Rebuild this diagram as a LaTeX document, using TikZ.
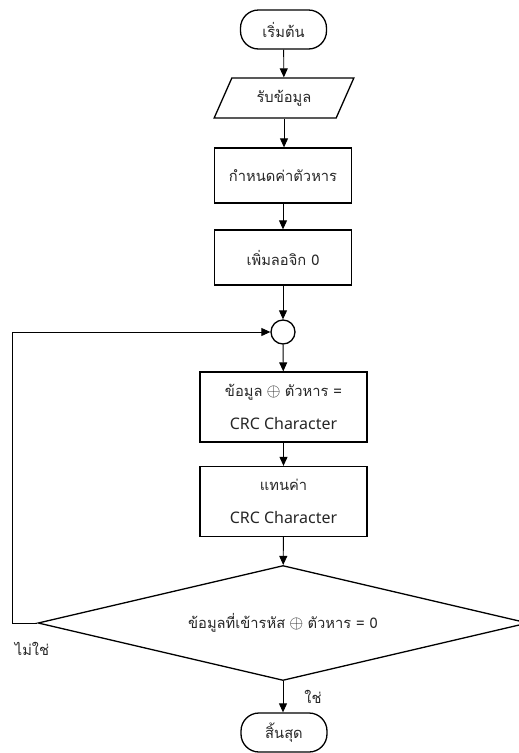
\documentclass[tikz,border=0pt]{standalone}
\usepackage{fontspec}
\setmainfont{Noto Sans}[Scale=1.14]
\newfontfamily\thai[Script=Thai,Scale=1.05]{Loma}
\usetikzlibrary{shapes.geometric,arrows.meta}
\newcommand{\xorsign}{\scalebox{1.25}{$\oplus$}}
\begin{document}
\begin{tikzpicture}[x=1pt,y=-1pt,
  every node/.style={font=\fontsize{14}{33}\selectfont, text=black!85, align=center, inner sep=0pt},
  shapebox/.style={draw, line width=1.3pt},
  term/.style={shapebox, rectangle, rounded corners=18pt, minimum width=86pt, minimum height=39pt},
  iobox/.style={shapebox, trapezium, trapezium stretches=true, trapezium left angle=60, trapezium right angle=120, minimum width=140pt, minimum height=40pt},
  procbox/.style={shapebox, rectangle, minimum width=137pt, minimum height=55pt},
  wideproc/.style={shapebox, rectangle, minimum width=167pt, minimum height=70pt},
  junction/.style={shapebox, circle, minimum size=24pt},
  decision/.style={shapebox, diamond, aspect=4.26, minimum width=490pt, minimum height=115pt},
  flow/.style={draw, line width=0.9pt, -{Triangle[length=9pt,width=8pt]}},
  lbl/.style={font=\fontsize{14}{16}\selectfont}
]
\useasboundingbox (0,0) rectangle (519,753);
\clip (0,0) rectangle (519,753);

\node[term] (start) at (283.5,29.5) {\thai เริ่มต้น};
\node[iobox] (input) at (284,98) {\thai รับข้อมูล};
\node[procbox] (divisor) at (283,175.5) {\thai กำหนดค่าตัวหาร};
\node[procbox] (zeros) at (283,257.5) {\thai เพิ่มลอจิก 0};
\node[junction] (join) at (283,332) {};
\node[wideproc] (xor) at (283.5,407) {{\thai ข้อมูล} \xorsign{} {\thai ตัวหาร =}\\CRC Character};
\node[wideproc] (replace) at (283.5,501.5) {\thai แทนค่า\\CRC Character};
\node[decision] (check) at (283,623) {{\thai ข้อมูลที่เข้ารหัส} \xorsign{} {\thai ตัวหาร = 0}};
\node[term] (stop) at (284,732.5) {\thai สิ้นสุด};

\draw[flow] (start) -- (input);
\draw[flow] (input.south) -- (input.south |- divisor.north);
\draw[flow] (divisor) -- (zeros);
\draw[flow] (zeros) -- (join);
\draw[flow] (join) -- (xor);
\draw[flow] (xor) -- (replace);
\draw[flow] (replace) -- (check);
\draw[flow] (check.south) -- (check.south |- stop.north);
\draw[flow] (check.west) -- (12,623) |- (join.west);

\node[lbl] (no) at (32,649) {\thai ไม่ใช่};
\node[lbl] (yes) at (313,697) {\thai ใช่};
\end{tikzpicture}
\end{document}
